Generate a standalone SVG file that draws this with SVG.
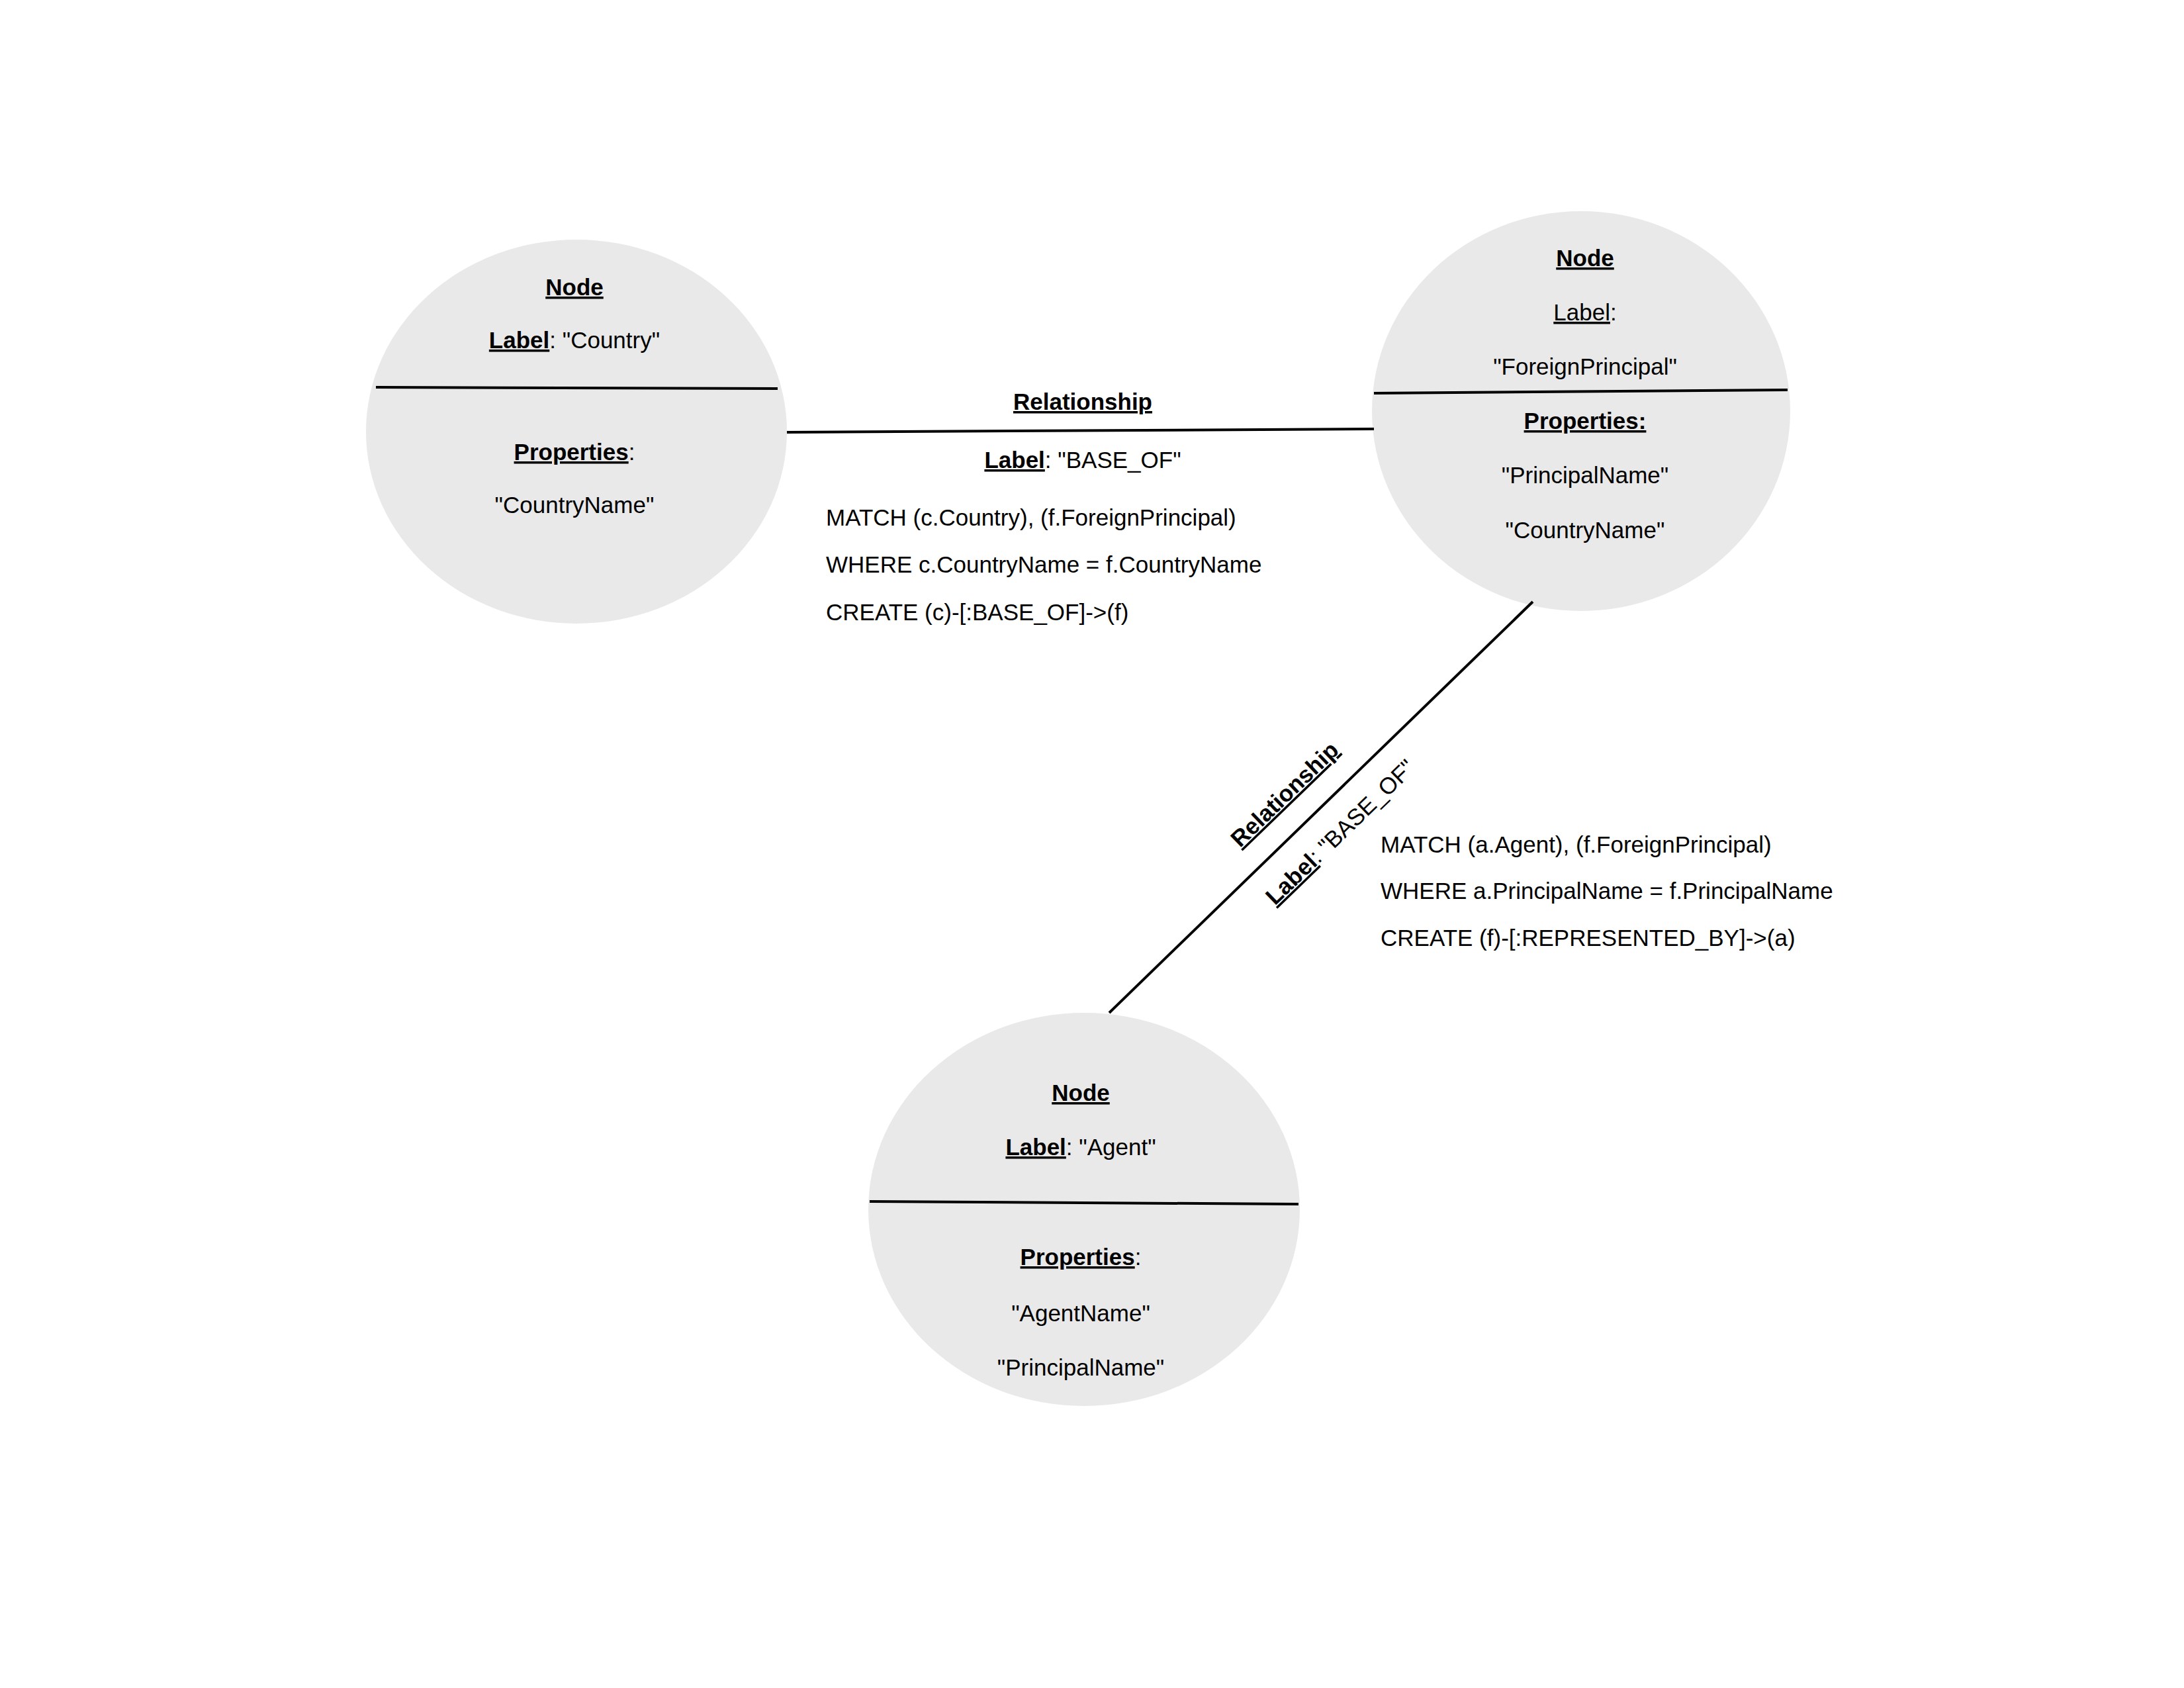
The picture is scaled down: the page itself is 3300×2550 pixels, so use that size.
<svg xmlns="http://www.w3.org/2000/svg" width="3300" height="2550" viewBox="0 0 3300 2550">
<style>
text{font-family:"Liberation Sans",Arial,sans-serif;font-size:35px;fill:#000}
.c{text-anchor:middle}
.b{font-weight:bold;text-decoration:underline}
.u{text-decoration:underline}
ellipse{fill:#e9e9e9}
line{stroke:#000;stroke-width:4}
</style>
<rect width="3300" height="2550" fill="#fff"/>
<g id="country">
<ellipse cx="871" cy="652" rx="318" ry="290"/>
<line x1="568" y1="585" x2="1175" y2="587"/>
<text class="c" x="868" y="446"><tspan class="b">Node</tspan></text>
<text class="c" x="868" y="526"><tspan class="b">Label</tspan>: "Country"</text>
<text class="c" x="868" y="695"><tspan class="b">Properties</tspan>:</text>
<text class="c" x="868" y="775">"CountryName"</text>
</g>
<g id="foreignprincipal">
<ellipse cx="2389" cy="621" rx="316" ry="302"/>
<line x1="2076" y1="594" x2="2701" y2="589"/>
<text class="c" x="2395" y="402"><tspan class="b">Node</tspan></text>
<text class="c" x="2395" y="484"><tspan class="u">Label</tspan>:</text>
<text class="c" x="2395" y="566">"ForeignPrincipal"</text>
<text class="c" x="2395" y="648"><tspan class="b">Properties:</tspan></text>
<text class="c" x="2395" y="730">"PrincipalName"</text>
<text class="c" x="2395" y="813">"CountryName"</text>
</g>
<g id="agent">
<ellipse cx="1638" cy="1827" rx="326" ry="297"/>
<line x1="1314" y1="1815" x2="1962" y2="1819"/>
<text class="c" x="1633" y="1663"><tspan class="b">Node</tspan></text>
<text class="c" x="1633" y="1745"><tspan class="b">Label</tspan>: "Agent"</text>
<text class="c" x="1633" y="1911"><tspan class="b">Properties</tspan>:</text>
<text class="c" x="1633" y="1996">"AgentName"</text>
<text class="c" x="1633" y="2078">"PrincipalName"</text>
</g>
<g id="connectors">
<line x1="1189" y1="653" x2="2076" y2="648"/>
<line x1="2316" y1="909" x2="1676" y2="1530"/>
</g>
<g id="labels">
<text class="c" x="1636" y="619"><tspan class="b">Relationship</tspan></text>
<text class="c" x="1636" y="707"><tspan class="b">Label</tspan>: "BASE_OF"</text>
<text x="1248" y="794">MATCH (c.Country), (f.ForeignPrincipal)</text>
<text x="1248" y="865">WHERE c.CountryName = f.CountryName</text>
<text x="1248" y="937">CREATE (c)-[:BASE_OF]-&gt;(f)</text>
<text class="c" transform="translate(1941,1200) rotate(-44)" x="0" y="12"><tspan class="b">Relationship</tspan></text>
<text class="c" transform="translate(2025,1257) rotate(-44)" x="0" y="12"><tspan class="b">Label</tspan>: "BASE_OF"</text>
<text x="2086" y="1288">MATCH (a.Agent), (f.ForeignPrincipal)</text>
<text x="2086" y="1358">WHERE a.PrincipalName = f.PrincipalName</text>
<text x="2086" y="1429">CREATE (f)-[:REPRESENTED_BY]-&gt;(a)</text>
</g>
</svg>
